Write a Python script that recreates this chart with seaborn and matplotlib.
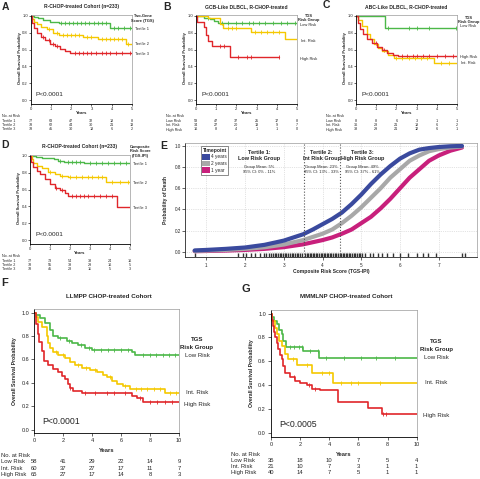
import matplotlib
matplotlib.use("agg")
import matplotlib.pyplot as plt
import matplotlib.transforms as mtrans
from matplotlib.patches import Patch
import seaborn as sns
import numpy as np

W, H = 480, 479
GREEN = "#4cb848"
YELLOW = "#f5c800"
RED = "#e0262a"
BLUE = "#3a4a9e"
GRAY = "#a8a8a8"
MAGENTA = "#c8207c"
NARROW = ["Liberation Sans Narrow", "Liberation Sans", "DejaVu Sans"]

# ---------------- panel A: R-CHOP cohort, TGS tertiles ----------------
A_t1_time = [0, 0.15, 0.35, 0.6, 0.95, 1.4, 3.9, 5.0]
A_t1_surv = [1.0, 0.99, 0.97, 0.95, 0.93, 0.91, 0.86, 0.86]
A_t1_cens = [1.5, 1.7, 1.9, 2.1, 2.3, 2.5, 2.7, 2.9, 3.1, 3.3, 3.5, 3.7, 4.1, 4.3, 4.6, 4.9]
A_t2_time = [0, 0.05, 0.15, 0.3, 0.5, 0.8, 1.1, 1.4, 2.6, 3.3, 4.7, 5.0]
A_t2_surv = [1.0, 0.96, 0.93, 0.90, 0.87, 0.84, 0.80, 0.77, 0.75, 0.72, 0.67, 0.67]
A_t2_cens = [0.9, 1.3, 1.6, 1.8, 2.0, 2.2, 2.4, 2.8, 3.0, 3.5, 3.7, 3.9, 4.1, 4.3, 4.5, 4.8]
A_t3_time = [0, 0.05, 0.15, 0.3, 0.5, 0.7, 0.95, 1.2, 1.45, 1.7, 1.95, 5.0]
A_t3_surv = [1.0, 0.92, 0.86, 0.80, 0.75, 0.71, 0.67, 0.64, 0.61, 0.58, 0.56, 0.56]
A_t3_cens = [0.6, 0.9, 1.1, 1.3, 2.2, 2.4, 2.6, 2.8, 3.0, 3.2, 3.5, 3.7, 3.9, 4.2, 4.5, 4.9]
A_names = ["Tertile 1", "Tertile 2", "Tertile 3"]
A_risk = [[77, 63, 47, 32, 18, 8], [78, 62, 44, 30, 21, 13], [78, 45, 30, 18, 6, 2]]

# ---------------- panel B: GCB-like ----------------
B_low_time = [0, 0.4, 0.7, 0.9, 1.1, 5.0]
B_low_surv = [1.0, 0.98, 0.96, 0.94, 0.92, 0.92]
B_low_cens = [0.6, 1.3, 1.6, 2.0, 2.3, 2.6, 2.8, 3.1, 3.4, 3.8, 4.2, 4.5, 4.9]
B_int_time = [0, 0.6, 1.2, 1.35, 2.7, 4.4, 5.0]
B_int_surv = [1.0, 0.97, 0.90, 0.86, 0.81, 0.72, 0.72]
B_int_cens = [1.6, 1.8, 2.0, 2.9, 3.2, 3.5, 3.8, 4.1]
B_high_time = [0, 0.05, 0.4, 0.5, 0.6, 0.8, 1.7, 4.1]
B_high_surv = [1.0, 0.93, 0.87, 0.77, 0.70, 0.64, 0.51, 0.51]
B_high_cens = [1.2, 1.4, 2.1, 2.5, 2.7, 4.1]
B_names = ["Low Risk", "Int. Risk", "High Risk"]
B_risk = [[58, 47, 37, 25, 17, 8], [34, 27, 20, 13, 9, 7], [16, 8, 4, 1, 1, 0]]

# ---------------- panel C: ABC-like ----------------
C_low_time = [0, 1.45, 5.0]
C_low_surv = [1.0, 0.85, 0.85]
C_low_cens = [1.6, 2.6, 3.0, 3.6, 4.95]
C_int_time = [0, 0.12, 0.3, 0.55, 0.7, 0.9, 1.1, 1.3, 1.6, 1.9, 3.85, 5.0]
C_int_surv = [1.0, 0.95, 0.88, 0.78, 0.72, 0.67, 0.62, 0.58, 0.54, 0.50, 0.44, 0.44]
C_int_cens = [2.0, 2.3, 2.6, 2.9, 3.2, 3.5, 4.2, 4.6]
C_high_time = [0, 0.08, 0.2, 0.35, 0.55, 0.8, 1.05, 1.3, 1.55, 1.85, 2.1, 5.0]
C_high_surv = [1.0, 0.92, 0.84, 0.78, 0.73, 0.68, 0.63, 0.59, 0.56, 0.54, 0.52, 0.52]
C_high_cens = [1.0, 1.4, 2.3, 2.5, 2.8, 3.0, 3.3, 3.6, 4.0, 4.4, 4.8]
C_names = ["Low Risk", "Int. Risk", "High Risk"]
C_risk = [[8, 8, 6, 3, 1, 1], [36, 28, 21, 18, 6, 2], [38, 29, 21, 12, 6, 1]]

# ---------------- panel D: composite score tertiles ----------------
D_t1_time = [0, 0.3, 0.6, 1.2, 1.4, 1.7, 2.7, 5.0]
D_t1_surv = [1.0, 0.99, 0.98, 0.96, 0.94, 0.93, 0.91, 0.91]
D_t1_cens = [1.5, 1.9, 2.1, 2.3, 2.5, 3.0, 3.3, 3.6, 3.9, 4.2, 4.5, 4.8]
D_t2_time = [0, 0.08, 0.17, 0.33, 0.58, 0.92, 1.25, 1.5, 1.9, 3.8, 5.0]
D_t2_surv = [1.0, 0.96, 0.92, 0.88, 0.85, 0.81, 0.78, 0.76, 0.75, 0.69, 0.69]
D_t2_cens = [1.0, 1.6, 2.0, 2.3, 2.6, 2.9, 3.1, 3.4, 3.6, 4.1, 4.5, 4.9]
D_t3_time = [0, 0.03, 0.17, 0.33, 0.5, 0.75, 1.0, 1.25, 1.5, 1.75, 1.92, 4.33, 5.0]
D_t3_surv = [1.0, 0.93, 0.87, 0.82, 0.78, 0.72, 0.67, 0.62, 0.59, 0.56, 0.52, 0.39, 0.39]
D_t3_cens = [1.3, 1.6, 2.1, 2.3, 2.5, 2.7, 2.9, 3.2, 3.5, 3.8, 4.1]
D_names = ["Tertile 1", "Tertile 2", "Tertile 3"]
D_risk = [[77, 73, 54, 38, 24, 16], [78, 55, 39, 29, 16, 5], [78, 45, 28, 11, 5, 3]]

# ---------------- panel E: probability of death ----------------
E_score = [0.7, 1.0, 1.5, 2.0, 2.5, 3.0, 3.5, 3.75, 4.0, 4.25, 4.5, 4.75, 5.0, 5.25, 5.5,
           5.75, 6.0, 6.25, 6.5, 6.75, 7.0, 7.3, 7.6]
E_4yr = [0.012, 0.017, 0.027, 0.04, 0.065, 0.105, 0.165, 0.21, 0.26, 0.31, 0.37, 0.45, 0.54,
         0.64, 0.73, 0.81, 0.88, 0.93, 0.965, 0.98, 0.99, 0.997, 1.0]
E_2yr = [0.008, 0.011, 0.017, 0.027, 0.042, 0.068, 0.11, 0.14, 0.17, 0.21, 0.27, 0.34, 0.42,
         0.51, 0.60, 0.70, 0.78, 0.86, 0.91, 0.95, 0.97, 0.985, 0.995]
E_1yr = [0.005, 0.007, 0.011, 0.017, 0.027, 0.043, 0.07, 0.09, 0.11, 0.135, 0.17, 0.21, 0.27,
         0.33, 0.41, 0.50, 0.60, 0.70, 0.78, 0.86, 0.91, 0.955, 0.985]
E_rug = [0.72, 1.82, 1.95, 2.03, 2.16, 2.25, 2.38, 2.48, 2.55, 2.62, 2.68, 2.72, 2.77,
         2.81, 2.85, 2.90, 2.94, 2.98, 3.03, 3.07, 3.11, 3.15, 3.20, 3.24, 3.28, 3.33,
         3.37, 3.42, 3.46, 3.55, 3.59, 3.63, 3.67, 3.71, 3.75, 3.79, 3.83, 3.87, 3.91,
         3.95, 3.99, 4.03, 4.07, 4.11, 4.15, 4.19, 4.23, 4.27, 4.31, 4.35, 4.40, 4.44,
         4.48, 4.52, 4.56, 4.60, 4.64, 4.68, 4.72, 4.76, 4.80, 4.84, 4.88, 4.93, 4.98,
         5.03, 5.10, 5.23, 5.31, 5.42, 5.53, 5.66, 5.83, 6.00, 6.21, 6.43, 6.60, 6.73,
         6.94, 7.59, 7.67]
E_cut = [3.51, 4.46]
E_groups = ["Tertile 1:\nLow Risk Group", "Tertile 2:\nInt Risk Group", "Tertile 3:\nHigh Risk Group"]
E_stats = ["Group Mean: 5%\n95% CI: 0% - 11%", "Group Mean: 23%\n95% CI: 13% - 33%",
           "Group Mean: 49%\n95% CI: 37% - 61%"]
E_group_x = [2.37, 3.98, 5.04]

# ---------------- panel F: LLMPP ----------------
F_low_time = [0, 0.15, 0.4, 0.74, 1.08, 1.3, 1.66, 2.24, 2.6, 3.04, 3.5, 3.96, 6.73, 6.96, 10.0]
F_low_surv = [1.0, 0.98, 0.95, 0.91, 0.85, 0.80, 0.78, 0.76, 0.74, 0.72, 0.70, 0.68, 0.66, 0.64, 0.64]
F_low_cens = [1.8, 2.4, 3.2, 3.8, 4.1, 4.6, 5.1, 5.5, 6.0, 6.5, 7.5, 8.0, 8.4, 8.9, 9.3, 9.7]
F_int_time = [0, 0.1, 0.28, 0.5, 0.85, 0.97, 1.08, 1.3, 1.66, 2.1, 2.47, 2.8, 3.27, 3.85,
              4.3, 4.77, 5.0, 5.35, 5.7, 6.15, 6.6, 9.03, 10.0]
F_int_surv = [1.0, 0.96, 0.92, 0.88, 0.80, 0.74, 0.70, 0.66, 0.64, 0.61, 0.58, 0.55, 0.53,
              0.51, 0.49, 0.47, 0.45, 0.42, 0.39, 0.37, 0.35, 0.31, 0.31]
F_int_cens = [1.5, 2.0, 3.0, 3.6, 4.2, 5.2, 6.3, 7.0, 7.4, 7.8, 8.3, 8.7, 9.4, 9.8]
F_high_time = [0, 0.12, 0.23, 0.35, 0.5, 0.7, 0.97, 1.31, 1.66, 1.89, 2.12, 2.35, 2.47, 2.7,
               3.27, 6.73, 7.07, 7.53, 10.0]
F_high_surv = [1.0, 0.90, 0.82, 0.75, 0.67, 0.59, 0.55, 0.52, 0.49, 0.46, 0.43, 0.39, 0.36,
               0.33, 0.31, 0.29, 0.27, 0.24, 0.24]
F_high_cens = [2.5, 3.5, 4.2, 5.0, 5.5, 6.3, 7.3, 8.0, 8.5, 9.0, 9.5]
F_names = ["Low Risk", "Int. Risk", "High Risk"]
F_risk = [[58, 41, 29, 22, 14, 9], [60, 37, 27, 17, 11, 7], [65, 27, 17, 14, 8, 3]]

# ---------------- panel G: MMMLNP ----------------
G_low_time = [0, 0.1, 0.23, 0.39, 0.55, 0.73, 0.85, 1.03, 2.22, 3.3, 10.0]
G_low_surv = [1.0, 0.97, 0.94, 0.91, 0.86, 0.83, 0.77, 0.72, 0.69, 0.63, 0.63]
G_low_cens = [1.3, 1.6, 1.9, 2.1, 2.7, 3.2, 3.8, 5.0, 6.2, 7.2, 8.5]
G_int_time = [0, 0.1, 0.28, 0.39, 0.57, 0.73, 0.96, 1.19, 1.76, 2.8, 4.28, 10.0]
G_int_surv = [1.0, 0.94, 0.88, 0.83, 0.77, 0.73, 0.66, 0.62, 0.57, 0.50, 0.42, 0.42]
G_int_cens = [1.5, 2.5, 3.5, 4.0, 4.8, 5.5, 6.0, 7.5]
G_high_time = [0, 0.05, 0.11, 0.23, 0.3, 0.39, 0.5, 0.62, 0.73, 0.85, 0.96, 1.3, 1.65, 2.0,
               2.45, 2.8, 3.36, 4.62, 6.68, 7.6, 10.0]
G_high_surv = [1.0, 0.95, 0.90, 0.85, 0.80, 0.75, 0.70, 0.65, 0.62, 0.56, 0.50, 0.47, 0.44,
               0.42, 0.40, 0.37, 0.36, 0.26, 0.21, 0.16, 0.16]
G_high_cens = [1.6, 2.6, 3.0, 7.7, 7.9]
G_names = ["Low Risk", "Int. Risk", "High Risk"]
G_risk = [[35, 18, 10, 7, 5, 4], [21, 10, 7, 3, 1, 1], [40, 14, 7, 5, 1, 1]]


def fx(px):
    return px / W


def fy(py):
    return 1 - py / H


def add_ax(fig, left, top, right, bottom):
    return fig.add_axes([fx(left), fy(bottom), (right - left) / W, (bottom - top) / H])


def draw_km(ax, curves, lw, ms):
    for times, surv, cens, color in curves:
        sns.lineplot(x=times, y=surv, drawstyle="steps-post", color=color, lw=lw,
                     estimator=None, sort=False, ax=ax)
        idx = np.searchsorted(times, cens, side="right") - 1
        cy = np.array(surv)[idx]
        sns.scatterplot(x=cens, y=cy, marker="|", s=ms, color=color, linewidth=0.6, ax=ax)


def style_km(ax, xmax, xstep, ylim, fs, tlen, tpad):
    ax.set_xlim(0, xmax)
    ax.set_ylim(*ylim)
    ax.set_xticks(np.arange(0, xmax + 0.1, xstep))
    ax.set_xticklabels([str(int(v)) for v in np.arange(0, xmax + 0.1, xstep)])
    ax.set_yticks([0, 0.2, 0.4, 0.6, 0.8, 1.0])
    ax.set_yticklabels(["0.0", "0.2", "0.4", "0.6", "0.8", "1.0"])
    ax.tick_params(labelsize=fs, length=tlen, width=0.5, pad=tpad)
    ax.set_xlabel("")
    ax.set_ylabel("")
    for s in ["left", "bottom"]:
        ax.spines[s].set_color("black")
        ax.spines[s].set_linewidth(0.6)
    for s in ["top", "right"]:
        ax.spines[s].set_visible(True)
        ax.spines[s].set_color("#9a9a9a")
        ax.spines[s].set_linewidth(0.5)


def risk_table(fig, ax, label_x, header_y, row_ys, names, counts, xs, fs):
    fig.text(fx(label_x), fy(header_y), "No. at Risk", fontsize=fs, va="center", ha="left",
             family=NARROW)
    trans = mtrans.blended_transform_factory(ax.transData, fig.transFigure)
    for name, row, y in zip(names, counts, row_ys):
        fig.text(fx(label_x), fy(y), name, fontsize=fs, va="center", ha="left", family=NARROW)
        for x, c in zip(xs, row):
            ax.text(x, fy(y), str(c), transform=trans, ha="center", va="center", fontsize=fs,
                    family=NARROW)


def side_labels(ax, x, items, fs, bold_n=0):
    for i, (txt, y) in enumerate(items):
        ax.text(x, y, txt, ha="center", va="center", fontsize=fs, clip_on=False, family=NARROW,
                fontweight="bold" if i < bold_n else "normal")


def main():
    sns.set_style("ticks")
    plt.rcParams["font.family"] = ["Liberation Sans", "DejaVu Sans"]
    fig = plt.figure(figsize=(4.8, 4.79), dpi=100)

    small = [
        ("A", (30.7, 15, 132, 104), "R-CHOP-treated Cohort (n=233)",
         [(A_t1_time, A_t1_surv, A_t1_cens, GREEN), (A_t2_time, A_t2_surv, A_t2_cens, YELLOW),
          (A_t3_time, A_t3_surv, A_t3_cens, RED)],
         A_names, A_risk, [("Two-Gene", 1.0), ("Score (TGS)", 0.94)],
         [0.84, 0.67, 0.55], (5, 2)),
        ("B", (196, 15, 297, 104), "GCB-Like DLBCL, R-CHOP-treated",
         [(B_low_time, B_low_surv, B_low_cens, GREEN), (B_int_time, B_int_surv, B_int_cens, YELLOW),
          (B_high_time, B_high_surv, B_high_cens, RED)],
         B_names, B_risk, [("TGS", 1.0), ("Risk Group", 0.95)],
         [0.895, 0.70, 0.49], (166.7, 166)),
        ("C", (356, 15, 457, 104), "ABC-Like DLBCL, R-CHOP-treated",
         [(C_low_time, C_low_surv, C_low_cens, GREEN), (C_int_time, C_int_surv, C_int_cens, YELLOW),
          (C_high_time, C_high_surv, C_high_cens, RED)],
         C_names, C_risk, [("TGS", 0.98), ("Risk Group", 0.93)],
         [0.885, 0.445, 0.51], (326.7, 326)),
        ("D", (30, 155, 130, 244), "R-CHOP-treated Cohort (n=233)",
         [(D_t1_time, D_t1_surv, D_t1_cens, GREEN), (D_t2_time, D_t2_surv, D_t2_cens, YELLOW),
          (D_t3_time, D_t3_surv, D_t3_cens, RED)],
         D_names, D_risk, [("Composite", 1.11), ("Risk Score", 1.055), ("(TGS-IPI)", 1.0)],
         [0.90, 0.68, 0.375], (5, 2)),
    ]

    for letter, rect, title, curves, names, risk, heads, side_y, (lx, tx) in small:
        left, top, right, bottom = rect
        ax = add_ax(fig, left, top, right, bottom)
        draw_km(ax, curves, 1.0, 5)
        style_km(ax, 5, 1, (-0.047, 1.01), 3.0, 1.5, 0.5)
        cx = (left + right) / 2
        fig.text(fx(cx), fy(top - 8.5), title, ha="center", va="center", fontsize=3.6,
                 fontweight="bold", family=NARROW)
        fig.text(fx(lx), fy(top - 10 + (2 if letter in "AB" else 0)), letter, ha="center",
                 va="center", fontsize=7.5, fontweight="bold")
        fig.text(fx(left - 11), fy((top + bottom) / 2 - 1), "Overall Survival Probability",
                 rotation=90, ha="center", va="center", fontsize=2.9, fontweight="bold")
        fig.text(fx(cx), fy(bottom + 8.7), "Years", ha="center", va="center", fontsize=3.2,
                 fontweight="bold")
        ax.text(0.25, 0.07, "P<0.0001", fontsize=4.6, ha="left", va="center")
        label_x = 5.5 if letter in "AD" else 5.56
        side_labels(ax, label_x, heads + list(zip(names, side_y)), 2.9, bold_n=len(heads))
        hy = bottom + 12
        risk_table(fig, ax, tx, hy, [hy + 4.5, hy + 9, hy + 13.5], names, risk,
                   [0, 1, 2, 3, 4, 5], 2.7)

    # ---------------- panel E ----------------
    ax = add_ax(fig, 185, 143.3, 476.7, 256.7)
    for yv, col in [(E_1yr, MAGENTA), (E_2yr, GRAY), (E_4yr, BLUE)]:
        sns.lineplot(x=E_score, y=yv, color=col, lw=3.0, estimator=None, sort=False, ax=ax,
                     solid_capstyle="round", solid_joinstyle="round")
    sns.rugplot(x=E_rug, height=0.035, color="#333333", lw=0.4, ax=ax)
    for c in E_cut:
        ax.axvline(c, ls=":", color="#555555", lw=0.8)
    ax.set_xlim(0.45, 7.98)
    ax.set_ylim(-0.047, 1.025)
    ax.set_xticks([1, 2, 3, 4, 5, 6, 7])
    ax.set_yticks([0, 0.2, 0.4, 0.6, 0.8, 1.0])
    ax.set_yticklabels(["0.0", "0.2", "0.4", "0.6", "0.8", "1.0"])
    ax.tick_params(labelsize=3.3, length=2, width=0.5, pad=1)
    ax.tick_params(axis="x", pad=2.5)
    ax.grid(True, ls=":", color="#c8c8c8", lw=0.5)
    ax.set_axisbelow(True)
    for s in ["left", "bottom"]:
        ax.spines[s].set_linewidth(0.6)
    for s in ["top", "right"]:
        ax.spines[s].set_visible(True)
        ax.spines[s].set_color("#9a9a9a")
        ax.spines[s].set_linewidth(0.5)
    for gx, gname, gstat in zip(E_group_x, E_groups, E_stats):
        ax.text(gx, 0.91, gname, ha="center", va="center", fontsize=4.0, fontweight="bold",
                linespacing=1.3)
        ax.text(gx, 0.775, gstat, ha="center", va="center", fontsize=2.9, linespacing=1.4,
                family=NARROW)
    handles = [Patch(facecolor=BLUE, edgecolor="none"), Patch(facecolor=GRAY, edgecolor="none"),
               Patch(facecolor=MAGENTA, edgecolor="none")]
    leg = ax.legend(handles, ["4 years", "2 years", "1 year"], title="Timepoint", loc="upper left",
                    bbox_to_anchor=(0.046, 0.994), fontsize=3.4, title_fontsize=3.6,
                    handlelength=1.6, handleheight=1.5, handletextpad=0.2, labelspacing=0.2,
                    borderpad=0.35, frameon=True, fancybox=False, edgecolor="#555555")
    leg.get_title().set_fontweight("bold")
    leg.get_frame().set_linewidth(0.6)
    fig.text(fx(331), fy(272), "Composite Risk Score (TGS-IPI)", ha="center", va="center",
             fontsize=3.6, fontweight="bold")
    fig.text(fx(166), fy(200), "Probability of Death", rotation=90, ha="center", va="center",
             fontsize=3.6, fontweight="bold")
    fig.text(fx(163.3), fy(146), "E", ha="center", va="center", fontsize=7.5, fontweight="bold")

    # ---------------- panels F and G ----------------
    big = [
        ("F", (34.3, 309, 179, 433.3), "LLMPP CHOP-treated Cohort",
         [(F_low_time, F_low_surv, F_low_cens, GREEN), (F_int_time, F_int_surv, F_int_cens, YELLOW),
          (F_high_time, F_high_surv, F_high_cens, RED)],
         F_names, F_risk, [0.636, 0.32, 0.216], "P<0.0001", 11.24, (5, 283.3), 1,
         [455.7, 461.7, 468.0, 474.3], 15),
        ("G", (271, 310, 416.7, 436.7), "MMMLNP CHOP-treated Cohort",
         [(G_low_time, G_low_surv, G_low_cens, GREEN), (G_int_time, G_int_surv, G_int_cens, YELLOW),
          (G_high_time, G_high_surv, G_high_cens, RED)],
         G_names, G_risk, [0.63, 0.42, 0.15], "P<0.0005", 11.33, (246, 289), 231,
         [454.3, 460.3, 466.5, 472.7], 251.7),
    ]
    for letter, rect, title, curves, names, risk, side_y, ptxt, lab_x, lpos, tx, rows, ylx in big:
        left, top, right, bottom = rect
        ax = add_ax(fig, left, top, right, bottom)
        draw_km(ax, curves, 1.2, 8)
        style_km(ax, 10, 2, (-0.03, 1.03), 4.0, 2.2, 1.5)
        cx = (left + right) / 2
        fig.text(fx(cx + 2), fy(296.7), title, ha="center", va="center", fontsize=4.5,
                 fontweight="bold", family=NARROW)
        fig.text(fx(lpos[0]), fy(lpos[1]), letter, ha="center", va="center", fontsize=8,
                 fontweight="bold")
        fig.text(fx(ylx), fy((top + bottom) / 2), "Overall Survival Probability", rotation=90,
                 ha="center", va="center", fontsize=3.7, fontweight="bold")
        fig.text(fx(cx), fy(bottom + 17.5), "Years", ha="center", va="center", fontsize=4.2,
                 fontweight="bold")
        ax.text(0.55, 0.07, ptxt, fontsize=6.3, ha="left", va="center")
        side_labels(ax, lab_x, [("TGS", 0.77), ("Risk Group", 0.70)] + list(zip(names, side_y)),
                    4.4, bold_n=2)
        risk_table(fig, ax, tx, rows[0], rows[1:], names, risk, [0, 2, 4, 6, 8, 10], 4.2)

    fig.savefig("out.png", dpi=100)
    plt.close(fig)


if __name__ == "__main__":
    main()
